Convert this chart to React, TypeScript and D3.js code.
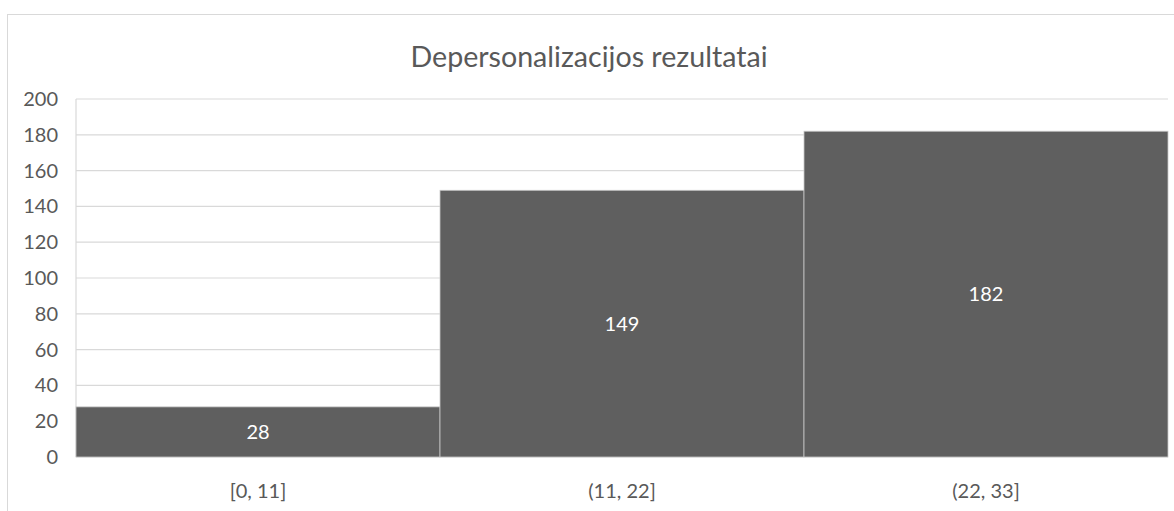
import { useRef, useEffect } from 'react'
import * as d3 from 'd3'

const title = 'Depersonalizacijos rezultatai'
const categories = ['[0, 11]', '(11, 22]', '(22, 33]']
const counts = [28, 149, 182]
const yTicks = [0, 20, 40, 60, 80, 100, 120, 140, 160, 180, 200]

const FONT = 'Lato, "Open Sans", sans-serif'

export default function App() {
  const svgRef = useRef<SVGSVGElement>(null)
  const width = 1174
  const height = 511

  useEffect(() => {
    if (!svgRef.current) return
    const svg = d3.select(svgRef.current)
    svg.selectAll('*').remove()

    const margin = { top: 99, right: 6, bottom: 54, left: 76 }
    const w = width - margin.left - margin.right
    const h = height - margin.top - margin.bottom

    // outer chart frame (runs off the right and bottom edges)
    svg.append('rect')
      .attr('x', 7.5).attr('y', 14.5)
      .attr('width', width + 20).attr('height', height + 20)
      .attr('fill', '#fff')
      .attr('stroke', '#d9d9d9')

    svg.append('text')
      .attr('x', 589).attr('y', 67)
      .attr('text-anchor', 'middle')
      .attr('font-family', FONT)
      .attr('font-size', 28.6)
      .attr('fill', '#595959')
      .text(title)

    const x = d3.scaleBand<string>().domain(categories).range([0, w]).padding(0)
    const y = d3.scaleLinear().domain([0, 200]).range([h, 0])

    const g = svg.append('g').attr('transform', `translate(${margin.left},${margin.top})`)

    // gridlines
    g.selectAll('.grid')
      .data(yTicks)
      .join('line')
      .attr('x1', 0).attr('x2', w)
      .attr('y1', (d) => y(d)).attr('y2', (d) => y(d))
      .attr('stroke', '#d9d9d9')
      .attr('stroke-width', 1.2)

    g.append('line')
      .attr('x1', 0).attr('x2', 0)
      .attr('y1', 0).attr('y2', h)
      .attr('stroke', '#d9d9d9')
      .attr('stroke-width', 1.2)

    // bars
    g.selectAll('.bar')
      .data(counts)
      .join('rect')
      .attr('x', (_, i) => x(categories[i]) ?? 0)
      .attr('y', (d) => y(d))
      .attr('width', x.bandwidth())
      .attr('height', (d) => h - y(d))
      .attr('fill', '#5f5f5f')
      .attr('stroke', '#c8c8c8')
      .attr('stroke-width', 0.8)

    // value labels
    g.selectAll('.val')
      .data(counts)
      .join('text')
      .attr('x', (_, i) => (x(categories[i]) ?? 0) + x.bandwidth() / 2)
      .attr('y', (d) => (y(d) + h) / 2 + 7)
      .attr('text-anchor', 'middle')
      .attr('font-family', FONT)
      .attr('font-size', 20)
      .attr('fill', '#ffffff')
      .text((d) => String(d))

    // y tick labels
    g.selectAll('.ytick')
      .data(yTicks)
      .join('text')
      .attr('x', -18)
      .attr('y', (d) => y(d) + 7)
      .attr('text-anchor', 'end')
      .attr('font-family', FONT)
      .attr('font-size', 20)
      .attr('fill', '#595959')
      .text((d) => String(d))

    // category labels
    g.selectAll('.xtick')
      .data(categories)
      .join('text')
      .attr('x', (d) => (x(d) ?? 0) + x.bandwidth() / 2)
      .attr('y', h + 41)
      .attr('text-anchor', 'middle')
      .attr('font-family', FONT)
      .attr('font-size', 20)
      .attr('fill', '#595959')
      .text((d) => d)
  }, [])

  return (
    <div style={{ position: 'absolute', left: 0, top: 0 }}>
      <svg ref={svgRef} width={width} height={height} style={{ display: 'block' }} />
    </div>
  )
}
